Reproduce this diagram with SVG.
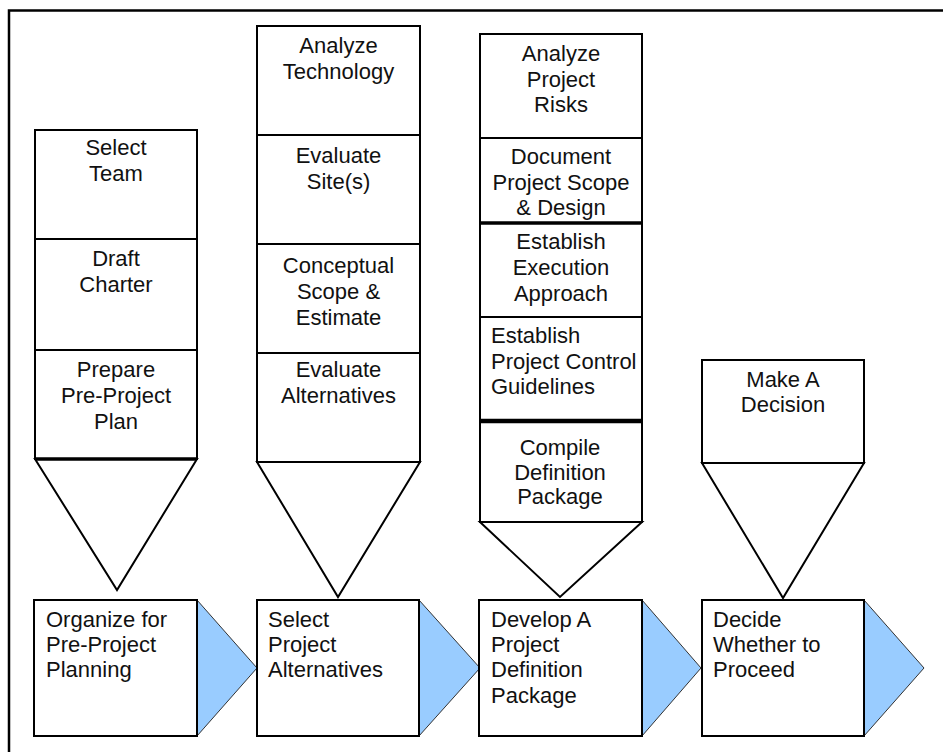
<svg xmlns="http://www.w3.org/2000/svg" width="943" height="752" viewBox="0 0 943 752">
<style>
.cell{fill:#fff;stroke:#000;stroke-width:2}
.div{stroke:#000;stroke-width:2}
.thick{stroke:#000;stroke-width:3.5}
.funnel{fill:#fff;stroke:#000;stroke-width:2;stroke-linejoin:miter}
.box{fill:#fff;stroke:#000;stroke-width:2}
.arr{fill:#99CCFF;stroke:#333;stroke-width:1}
text{font-family:"Liberation Sans",Arial,sans-serif;font-size:22px;fill:#111}
.c{text-anchor:middle}
</style>
<rect x="0" y="0" width="943" height="752" fill="#fff"/>
<path d="M9,752 V10.5 H943" fill="none" stroke="#000" stroke-width="2.5"/>

<g id="col1">
  <polygon class="funnel" points="35,459 117,590 197,459"/>
  <rect class="cell" x="35" y="130" width="162" height="329"/>
  <line class="div" x1="35" y1="239" x2="197" y2="239"/>
  <line class="div" x1="35" y1="350" x2="197" y2="350"/>
  <line class="thick" x1="35" y1="459" x2="197" y2="459"/>
  <text class="c" x="116" y="155">Select</text>
  <text class="c" x="116" y="181">Team</text>
  <text class="c" x="116" y="266">Draft</text>
  <text class="c" x="116" y="292">Charter</text>
  <text class="c" x="116" y="377">Prepare</text>
  <text class="c" x="116" y="403">Pre-Project</text>
  <text class="c" x="116" y="429">Plan</text>
</g>

<g id="col2">
  <polygon class="funnel" points="257,462 338,597 420,462"/>
  <rect class="cell" x="257" y="26" width="163" height="436"/>
  <line class="div" x1="257" y1="135" x2="420" y2="135"/>
  <line class="div" x1="257" y1="244" x2="420" y2="244"/>
  <line class="div" x1="257" y1="353" x2="420" y2="353"/>
  <line class="div" x1="257" y1="462" x2="420" y2="462"/>
  <text class="c" x="338.5" y="53">Analyze</text>
  <text class="c" x="338.5" y="79">Technology</text>
  <text class="c" x="338.5" y="163">Evaluate</text>
  <text class="c" x="338.5" y="189">Site(s)</text>
  <text class="c" x="338.5" y="273">Conceptual</text>
  <text class="c" x="338.5" y="299">Scope &amp;</text>
  <text class="c" x="338.5" y="325">Estimate</text>
  <text class="c" x="338.5" y="377">Evaluate</text>
  <text class="c" x="338.5" y="403">Alternatives</text>
</g>

<g id="col3">
  <polygon class="funnel" points="480,522 560,597 642,522"/>
  <rect class="cell" x="480" y="34" width="162" height="488"/>
  <line class="div" x1="480" y1="138" x2="642" y2="138"/>
  <line class="thick" x1="480" y1="223" x2="642" y2="223"/>
  <line class="div" x1="480" y1="317" x2="642" y2="317"/>
  <line x1="480" y1="421" x2="642" y2="421" stroke="#000" stroke-width="4.5"/>
  <line class="div" x1="480" y1="522" x2="642" y2="522"/>
  <text class="c" x="561" y="61">Analyze</text>
  <text class="c" x="561" y="87">Project</text>
  <text class="c" x="561" y="112">Risks</text>
  <text class="c" x="561" y="164">Document</text>
  <text class="c" x="561" y="190">Project Scope</text>
  <text class="c" x="561" y="215">&amp; Design</text>
  <text class="c" x="561" y="249">Establish</text>
  <text class="c" x="561" y="275">Execution</text>
  <text class="c" x="561" y="301">Approach</text>
  <text x="491" y="343">Establish</text>
  <text x="491" y="369">Project Control</text>
  <text x="491" y="394">Guidelines</text>
  <text class="c" x="560" y="455">Compile</text>
  <text class="c" x="560" y="480">Definition</text>
  <text class="c" x="560" y="504">Package</text>
</g>

<g id="col4">
  <polygon class="funnel" points="702,463 783,598 864,463"/>
  <rect class="cell" x="702" y="360" width="162" height="103"/>
  <line class="div" x1="702" y1="463" x2="864" y2="463"/>
  <text class="c" x="783" y="387">Make A</text>
  <text class="c" x="783" y="412">Decision</text>
</g>

<g id="step1">
  <polygon class="arr" points="197,600 257,668 197,736"/>
  <rect class="box" x="34" y="600" width="163" height="136"/>
  <text x="46" y="627">Organize for</text>
  <text x="46" y="652">Pre-Project</text>
  <text x="46" y="677">Planning</text>
</g>

<g id="step2">
  <polygon class="arr" points="419,600 480,668 419,736"/>
  <rect class="box" x="257" y="600" width="162" height="136"/>
  <text x="268" y="627">Select</text>
  <text x="268" y="652">Project</text>
  <text x="268" y="677">Alternatives</text>
</g>

<g id="step3">
  <polygon class="arr" points="642,600 701,668 642,736"/>
  <rect class="box" x="479" y="600" width="163" height="136" stroke-width="2.5"/>
  <text x="491" y="627">Develop A</text>
  <text x="491" y="652">Project</text>
  <text x="491" y="677">Definition</text>
  <text x="491" y="703">Package</text>
</g>

<g id="step4">
  <polygon class="arr" points="864,600 924,668 864,736"/>
  <rect class="box" x="702" y="600" width="162" height="136"/>
  <text x="713" y="627">Decide</text>
  <text x="713" y="652">Whether to</text>
  <text x="713" y="677">Proceed</text>
</g>

<g id="connectors"></g>
</svg>
